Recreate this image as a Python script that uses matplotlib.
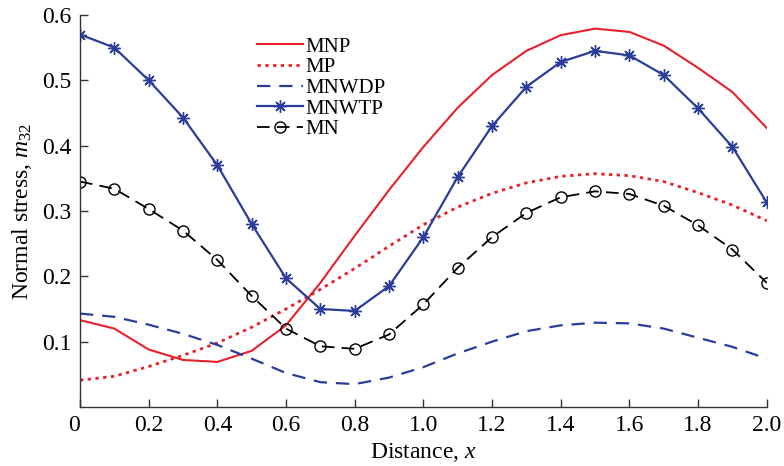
import numpy as np
import matplotlib.pyplot as plt

plt.rcParams['font.family'] = ['Liberation Serif', 'DejaVu Serif']
plt.rcParams['mathtext.fontset'] = 'custom'
plt.rcParams['mathtext.it'] = 'Liberation Serif:italic'
plt.rcParams['mathtext.rm'] = 'Liberation Serif'

# distance along x
x = [0.0, 0.1, 0.2, 0.3, 0.4, 0.5, 0.6, 0.7, 0.8, 0.9, 1.0,
     1.1, 1.2, 1.3, 1.4, 1.5, 1.6, 1.7, 1.8, 1.9, 2.0]

mnp = [0.133, 0.120, 0.088, 0.072, 0.069, 0.086, 0.125, 0.190, 0.262, 0.332, 0.398,
       0.458, 0.508, 0.545, 0.569, 0.579, 0.574, 0.553, 0.519, 0.482, 0.427]
mp = [0.041, 0.047, 0.062, 0.079, 0.098, 0.122, 0.150, 0.180, 0.212, 0.246, 0.279,
      0.306, 0.327, 0.343, 0.353, 0.357, 0.354, 0.345, 0.328, 0.309, 0.285]
mnwdp = [0.143, 0.138, 0.126, 0.112, 0.095, 0.074, 0.052, 0.038, 0.035, 0.045, 0.061,
         0.082, 0.100, 0.116, 0.125, 0.129, 0.128, 0.120, 0.106, 0.092, 0.074]
mnwtp = [0.570, 0.550, 0.500, 0.443, 0.370, 0.280, 0.197, 0.150, 0.147, 0.185, 0.260,
         0.352, 0.430, 0.490, 0.528, 0.545, 0.538, 0.508, 0.457, 0.398, 0.313]
mn = [0.345, 0.334, 0.303, 0.270, 0.225, 0.170, 0.120, 0.093, 0.089, 0.111, 0.157,
      0.213, 0.260, 0.297, 0.321, 0.330, 0.326, 0.308, 0.278, 0.241, 0.190]

red = '#e8202a'
blue = '#2a3d9a'

fig = plt.figure(figsize=(7.84, 4.66), dpi=100)
ax = fig.add_axes([0.102, 0.1266, 0.876, 0.8414])

ax.plot(x, mnp, '-', color=red, lw=1.5, label='MNP')
ax.plot(x, mp, ':', color=red, lw=2.0, label='MP', dashes=(1.2, 1.6))
ax.plot(x, mnwdp, '--', color=blue, lw=1.6, label='MNWDP', dashes=(6, 4))
ax.plot(x, mnwtp, '-', color=blue, lw=1.6, marker=(8, 2, 0), ms=9, mew=1.0,
        label='MNWTP')
ax.plot(x, mn, '--', color='black', lw=1.3, marker='o', ms=8, mfc='none',
        mew=1.0, dashes=(7, 4), label='MN')

ax.set_xlim(0, 2.0)
ax.set_ylim(0, 0.6)
ax.set_xticks(np.arange(0, 2.01, 0.2))
ax.set_xticklabels(['0', '0.2', '0.4', '0.6', '0.8', '1.0', '1.2', '1.4', '1.6', '1.8', '2.0'])
ax.set_yticks([0.1, 0.2, 0.3, 0.4, 0.5, 0.6])
ax.set_yticklabels(['0.1', '0.2', '0.3', '0.4', '0.5', '0.6'])
ax.tick_params(direction='in', length=6, width=1.0, labelsize=17, color='#333333', pad=6)
ax.xaxis.get_majorticklabels()[0].set_horizontalalignment('right')

for side in ['top', 'right']:
    ax.spines[side].set_visible(False)
for side in ['left', 'bottom']:
    ax.spines[side].set_color('#333333')
    ax.spines[side].set_linewidth(1.0)

ax.set_xlabel('Distance, $\\it{x}$', fontsize=17, labelpad=3)
ax.set_ylabel('Normal stress, $\\it{m}_{32}$', fontsize=17, labelpad=6)

ax.legend(loc='upper left', bbox_to_anchor=(0.243, 0.97), frameon=False, fontsize=15,
          handlelength=2.2, handletextpad=0.1, labelspacing=0.05, borderpad=0)

fig.savefig('out.png', dpi=100)
